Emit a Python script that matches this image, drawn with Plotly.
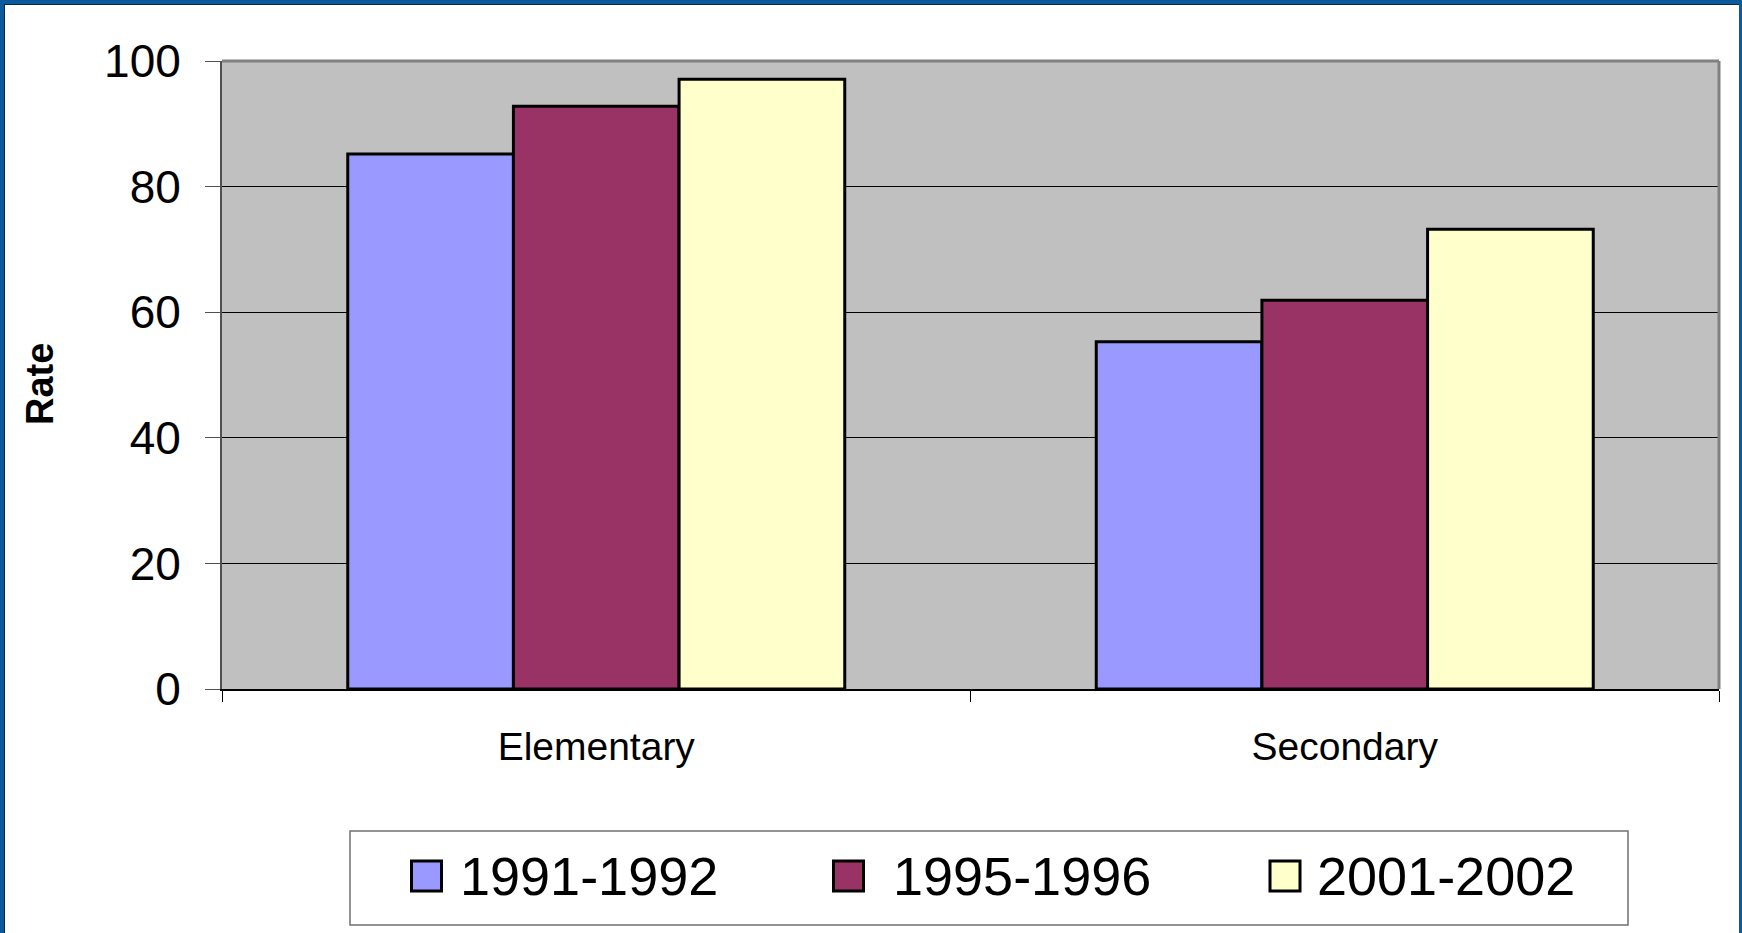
import plotly.graph_objects as go

categories = ["Elementary", "Secondary"]
series_names = ["1991-1992", "1995-1996", "2001-2002"]
values_1991 = [85.2, 55.3]
values_1995 = [92.8, 61.9]
values_2001 = [97.1, 73.2]
series_values = [values_1991, values_1995, values_2001]
series_colors = ["#9999FF", "#993366", "#FFFFCC"]
y_ticks = [0, 20, 40, 60, 80, 100]

W, H = 1742, 933
L, R, T, B = 222, 23, 61, 244
PW, PH = W - L - R, H - T - B
FONT = "Liberation Sans, Arial, sans-serif"

def px(x):
    return (x - L) / PW

def py(y):
    return (H - B - y) / PH

fig = go.Figure()
for name, vals, col in zip(series_names, series_values, series_colors):
    fig.add_trace(go.Bar(
        x=categories, y=vals, name=name, showlegend=False,
        marker=dict(color=col, line=dict(color="black", width=3)),
    ))

shapes = []
annotations = []

# plot-area top/right gray border
shapes.append(dict(type="line", xref="paper", yref="paper", x0=0, x1=1, y0=1, y1=1,
                   line=dict(color="#808080", width=3)))
shapes.append(dict(type="line", xref="paper", yref="paper", x0=1, x1=1, y0=0, y1=1,
                   line=dict(color="#808080", width=3)))

# custom legend
shapes.append(dict(type="rect", xref="paper", yref="paper",
                   x0=px(350), x1=px(1628), y0=py(925), y1=py(831),
                   line=dict(color="#707070", width=1.5), fillcolor="white"))
sw_centers = [426.5, 848.5, 1285]
txt_left = [458, 891, 1315]
sz = 30
for name, col, cx, tx in zip(series_names, series_colors, sw_centers, txt_left):
    shapes.append(dict(type="rect", xref="paper", yref="paper",
                       x0=px(cx - sz / 2), x1=px(cx + sz / 2),
                       y0=py(876 + sz / 2), y1=py(876 - sz / 2),
                       line=dict(color="black", width=3), fillcolor=col))
    annotations.append(dict(text=name, xref="paper", yref="paper", x=px(tx), y=py(876),
                            xanchor="left", yanchor="middle", showarrow=False,
                            font=dict(family=FONT, size=54, color="black")))

# y-axis title
annotations.append(dict(text="Rate", xref="paper", yref="paper", x=px(40), y=py(384),
                        xanchor="center", yanchor="middle", textangle=-90, showarrow=False,
                        font=dict(family=FONT, size=38, color="black", weight="bold")))

# outer blue frame (top, left, right)
blue = "#0A5A9C"
shapes.append(dict(type="line", xref="paper", yref="paper", x0=px(0), x1=px(W), y0=py(2), y1=py(2),
                   line=dict(color=blue, width=4)))
shapes.append(dict(type="line", xref="paper", yref="paper", x0=px(2), x1=px(2), y0=py(0), y1=py(H),
                   line=dict(color=blue, width=4)))
shapes.append(dict(type="line", xref="paper", yref="paper", x0=px(W - 1.5), x1=px(W - 1.5), y0=py(0), y1=py(H),
                   line=dict(color=blue, width=3)))
shapes.append(dict(type="line", xref="paper", yref="paper", x0=px(4), x1=px(W - 3), y0=py(4.5), y1=py(4.5),
                   line=dict(color="#0B2A40", width=1)))
shapes.append(dict(type="line", xref="paper", yref="paper", x0=px(4.5), x1=px(4.5), y0=py(4), y1=py(H),
                   line=dict(color="#0B2A40", width=1)))

fig.update_layout(
    width=W, height=H,
    margin=dict(l=L, r=R, t=T, b=B, autoexpand=False),
    paper_bgcolor="white", plot_bgcolor="#C0C0C0",
    barmode="group", bargap=0.336, bargroupgap=0,
    showlegend=False,
    shapes=shapes, annotations=annotations,
    font=dict(family=FONT, color="black"),
)
fig.update_xaxes(
    automargin=False,
    showline=True, linecolor="black", linewidth=2,
    ticks="outside", tickson="boundaries", ticklen=11, tickcolor="black", tickwidth=1,
    tickfont=dict(family=FONT, size=39, color="black"),
    ticklabelstandoff=22, showgrid=False,
)
fig.update_yaxes(
    automargin=False,
    range=[0, 100], tickvals=y_ticks, ticktext=[str(v) for v in y_ticks],
    showgrid=True, gridcolor="black", gridwidth=1,
    showline=True, linecolor="#505050", linewidth=2,
    ticks="outside", ticklen=15, tickcolor="#505050", tickwidth=1,
    tickfont=dict(family=FONT, size=46, color="black"),
    ticklabelstandoff=15, zeroline=False,
)

fig.write_html(
    "out.html",
    config={"displayModeBar": False},
    post_script="document.body.style.margin='0';document.body.style.overflow='hidden';",
)
